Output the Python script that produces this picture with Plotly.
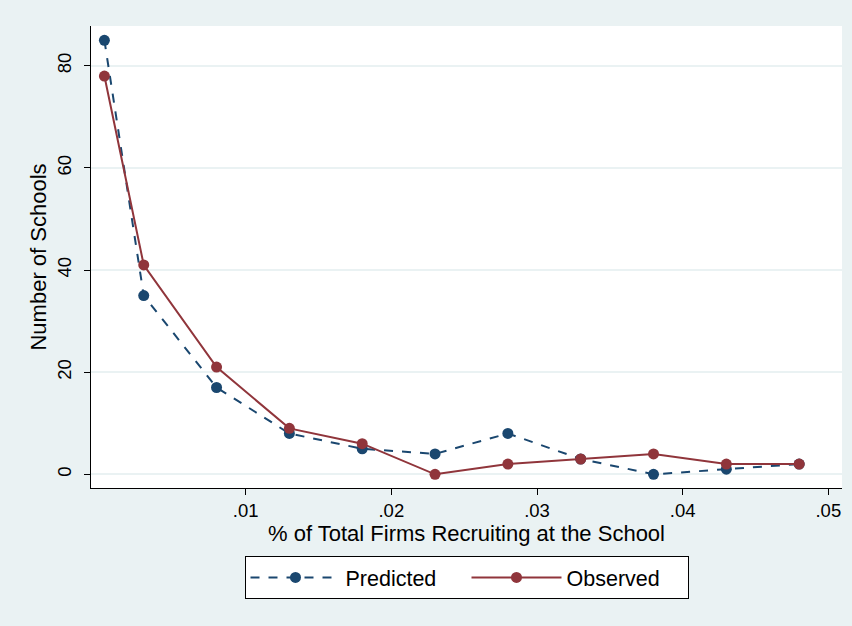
import plotly.graph_objects as go

x_vals = [0.0003, 0.003, 0.008, 0.013, 0.018, 0.023, 0.028, 0.033, 0.038, 0.043, 0.048]
predicted = [85, 35, 17, 8, 5, 4, 8, 3, 0, 1, 2]
observed = [78, 41, 21, 9, 6, 0, 2, 3, 4, 2, 2]
x_ticks = [0.01, 0.02, 0.03, 0.04, 0.05]
x_ticktext = [".01", ".02", ".03", ".04", ".05"]
y_ticks = [0, 20, 40, 60, 80]

navy = "#1A476F"
maroon = "#90353B"
bg = "#EAF2F3"
font = "Liberation Sans, Arial, sans-serif"
fs = 18.5

fig = go.Figure()
fig.add_trace(go.Scatter(x=x_vals, y=predicted, mode="lines+markers", name="Predicted",
                         line=dict(color=navy, width=2, dash="dash"),
                         marker=dict(color=navy, size=11)))
fig.add_trace(go.Scatter(x=x_vals, y=observed, mode="lines+markers", name="Observed",
                         line=dict(color=maroon, width=2),
                         marker=dict(color=maroon, size=11)))

fig.update_layout(
    width=852, height=626,
    paper_bgcolor=bg, plot_bgcolor="white",
    margin=dict(l=91, r=10, t=26, b=138),
    font=dict(family=font, size=fs, color="black"),
    showlegend=True,
    legend=dict(orientation="h", x=0.5, xanchor="center", y=-0.147, yanchor="top",
                xref="paper", bgcolor="white", bordercolor="black", borderwidth=1,
                itemwidth=90, font=dict(size=21.5), traceorder="normal",
                entrywidth=116),
    xaxis=dict(range=[-0.00062, 0.05094], tickvals=x_ticks, ticktext=x_ticktext,
               showgrid=False, zeroline=False, showline=True, linecolor="black", linewidth=1,
               ticks="outside", ticklen=6, tickcolor="black",
               title=dict(text="% of Total Firms Recruiting at the School", standoff=2)),
    yaxis=dict(range=[-2.68, 87.8], tickvals=y_ticks, tickangle=-90,
               showgrid=True, gridcolor=bg, gridwidth=1.5, zeroline=False,
               showline=True, linecolor="black", linewidth=1,
               ticks="outside", ticklen=6, tickcolor="black", ticklabelstandoff=6,
               title=dict(text="Number of Schools", standoff=0)),
)

fig.write_html("out.html", config={"displayModeBar": False},
               post_script="document.body.style.margin='0';")
